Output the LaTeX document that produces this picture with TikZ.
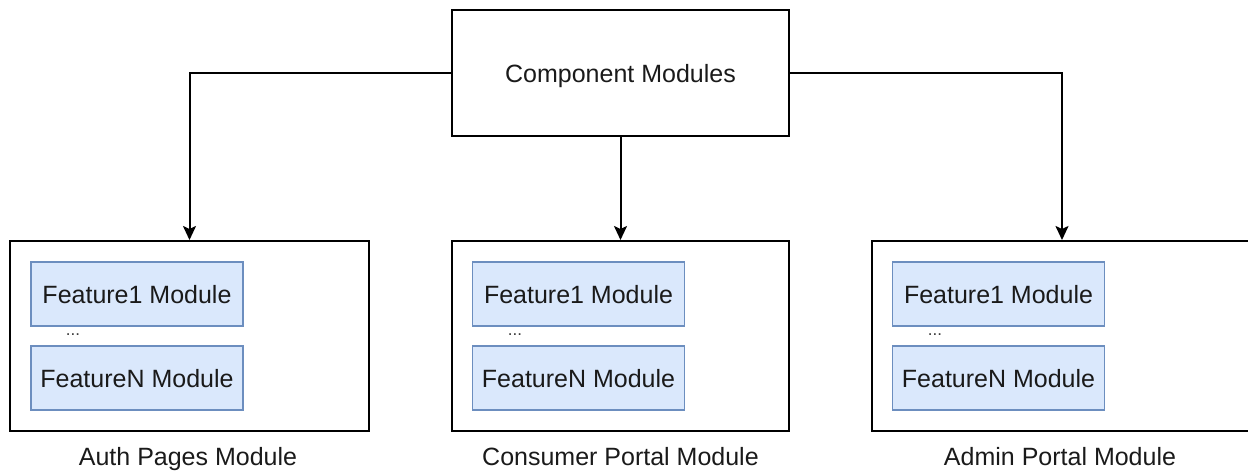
\documentclass[tikz,border=0pt]{standalone}
\usepackage{fontspec}
\setmainfont{Liberation Sans}
\usetikzlibrary{arrows.meta}
\definecolor{featfill}{HTML}{DAE8FC}
\definecolor{featline}{HTML}{6C8EBF}
\definecolor{ink}{HTML}{1A1A1A}
\tikzset{
  box/.style={draw=black, line width=2pt, fill=white, inner sep=0pt,
    text height=18pt, text depth=0pt},
  feat/.style={draw=featline, line width=1.5pt, fill=featfill, minimum width=212pt,
    minimum height=64pt, inner sep=0pt, text=ink, font=\fontsize{25}{30}\selectfont,
    text height=18pt, text depth=0pt},
  caption/.style={text=ink, font=\fontsize{25}{30}\selectfont, inner sep=0pt, anchor=base},
  dots/.style={text=ink!85, font=\fontsize{17}{20}\selectfont, inner sep=0pt, anchor=base},
  link/.style={draw=black, line width=2pt, -{Stealth[length=14pt,width=13pt,inset=3pt]}}
}
\begin{document}
\begin{tikzpicture}[x=1pt,y=-1pt]
\useasboundingbox (0,0) rectangle (1248,472);
% root module
\node[box, minimum width=337pt, minimum height=126pt, text=ink,
      font=\fontsize{25}{30}\selectfont] (root) at (620.5,73) {Component Modules};
% three module containers
\node[box, minimum width=359pt, minimum height=190pt] (auth) at (189.5,336) {};
\node[box, minimum width=337pt, minimum height=190pt] (consumer) at (620.5,336) {};
\node[box, minimum width=380pt, minimum height=190pt] (admin) at (1062,336) {};
% feature modules inside each container
\node[feat] (a1) at (137,294) {Feature1 Module};
\node[feat] (aN) at (137,378) {FeatureN Module};
\node[dots] (ad) at (73,335) {...};
\node[feat] (c1) at (578.5,294) {Feature1 Module};
\node[feat] (cN) at (578.5,378) {FeatureN Module};
\node[dots] (cd) at (515,335) {...};
\node[feat] (m1) at (998.5,294) {Feature1 Module};
\node[feat] (mN) at (998.5,378) {FeatureN Module};
\node[dots] (md) at (935,335) {...};
% captions
\node[caption] (authlbl) at (188,465) {Auth Pages Module};
\node[caption] (consumerlbl) at (620.5,465) {Consumer Portal Module};
\node[caption] (adminlbl) at (1060,465) {Admin Portal Module};
% connectors
\draw[link] (root.west) -| (auth.north);
\draw[link] (root.south) -- (consumer.north);
\draw[link] (root.east) -| (admin.north);
\end{tikzpicture}
\end{document}
